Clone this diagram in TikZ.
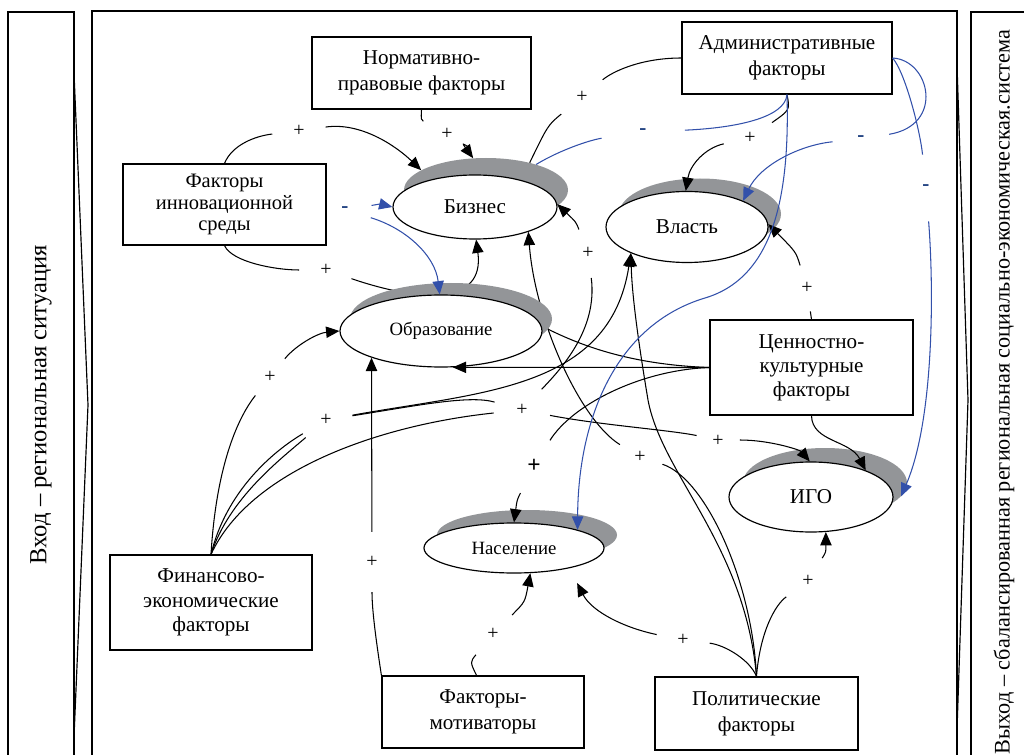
\documentclass[tikz,border=0pt]{standalone}
\usepackage{fontspec}
\setmainfont{Liberation Serif}
\usetikzlibrary{shapes.geometric, arrows.meta}
\definecolor{halogray}{RGB}{147,149,152}
\definecolor{linkblue}{RGB}{50,80,170}
\definecolor{signblue}{RGB}{25,60,125}
\tikzset{
    >={Triangle[length=4mm, width=3.4mm]}, % filled arrow heads
    factor/.style={draw, line width=1pt, fill=white, align=center, inner sep=0pt, font=\fontsize{18}{22}\selectfont}, % boxes with the factors
    actor/.style={ellipse, draw, line width=1pt, fill=white, inner sep=0pt, font=\fontsize{18}{20}\selectfont}, % the ellipses
    halo/.style={ellipse, fill=halogray, inner sep=0pt}, % gray band behind an ellipse
    link/.style={line width=0.9pt},
    blink/.style={link, draw=linkblue},
    sgn/.style={circle, inner sep=0pt, minimum size=16mm, font=\fontsize{17}{17}\selectfont}, % the gap round a sign
    bsgn/.style={sgn, text=signblue, font=\fontsize{18}{18}\selectfont\bfseries},
    frame/.style={line width=1pt},
}
\begin{document}
\begin{tikzpicture}[x=0.3mm, y=-0.3mm]
\useasboundingbox (0,0) rectangle (1024,755);
% input, system, output
\draw[frame] (8,770) -- (8,12) -- (74,12) -- (74,770);
\draw[frame] (74,73) -- (88,405) -- (74,737);
\draw[frame] (92,770) -- (92,11) -- (957,11) -- (957,770);
\draw[frame] (957,65) -- (968,400) -- (957,730);
\draw[frame] (971,770) -- (971,12) -- (1040,12);
\node[rotate=90, font=\fontsize{21}{21}\selectfont] (vhod) at (41,405) {Вход – региональная ситуация};
\node[rotate=90, font=\fontsize{19}{19}\selectfont] (vyhod) at (1004,392) {Выход – сбалансированная региональная социально-экономическая.система};

% factors
\node[factor, minimum width=65.7mm, minimum height=21.6mm] (norm) at (421.5,73) {Нормативно-\\правовые факторы};
\node[factor, minimum width=63mm, minimum height=21.6mm] (adm) at (787,58) {Административные\\факторы};
\node[factor, minimum width=60.9mm, minimum height=24.3mm, font=\fontsize{17.5}{18}\selectfont] (innov) at (224.5,204.5) {Факторы\\инновационной\\среды};
\node[factor, minimum width=60.9mm, minimum height=28.5mm, font=\fontsize{18}{20.5}\selectfont] (cenn) at (811.5,367.5) {Ценностно-\\культурные\\факторы};
\node[factor, minimum width=60.6mm, minimum height=28.5mm, font=\fontsize{18}{21}\selectfont] (fin) at (211,602.5) {Финансово-\\экономические\\факторы};
\node[factor, minimum width=60.6mm, minimum height=21.6mm] (motiv) at (483,712) {Факторы-\\мотиваторы};
\node[factor, minimum width=60.9mm, minimum height=21.9mm] (polit) at (756.5,713.5) {Политические\\факторы};

% actors
\node[halo, minimum width=49.2mm, minimum height=19.2mm] (bizs) at (486,190) {};
\node[actor, minimum width=49.2mm, minimum height=19.2mm] (biz) at (475,207) {Бизнес};
\node[halo, minimum width=48.6mm, minimum height=21.3mm] (vlasts) at (700,214) {};
\node[actor, minimum width=48.6mm, minimum height=21.3mm] (vlast) at (687,227) {Власть};
\node[halo, minimum width=54mm, minimum height=15mm] (nass) at (527,535) {};
\node[actor, minimum width=54mm, minimum height=15mm, font=\fontsize{16}{16}\selectfont] (nas) at (514,548) {Население};
\node[halo, minimum width=49.2mm, minimum height=21mm] (igos) at (825,483) {};
\node[actor, minimum width=49.2mm, minimum height=21mm] (igo) at (811,497) {ИГО};

% signs
\node[sgn] (p1) at (447,134) {+};
\node[sgn] (p2) at (299,131) {+};
\node[sgn] (p3) at (326,270) {+};
\node[sgn] (p4) at (582,97) {+};
\node[sgn] (p5) at (750,138) {+};
\node[sgn, minimum size=14mm] (p6) at (807,288) {+};
\node[sgn, minimum size=18mm, font=\fontsize{20}{20}\selectfont\bfseries] (p7) at (534,466) {+};
\node[sgn, minimum size=14mm] (p8) at (270,377) {+};
\node[sgn] (p9) at (326,420) {+};
\node[sgn, minimum size=15mm] (p10) at (588,253) {+};
\node[sgn, minimum size=17mm] (p11) at (522,410) {+};
\node[sgn, minimum size=13mm] (p12) at (718,440) {\raisebox{-11pt}{+}};
\node[sgn] (p13) at (808,581) {+};
\node[sgn] (p14) at (683,640) {+};
\node[sgn, minimum size=14mm] (p15) at (640,457) {\raisebox{-10pt}{+}};
\node[sgn] (p16) at (493,634) {+};
\node[sgn, minimum size=18mm] (p17) at (372,562) {+};
\node[bsgn] (m1) at (345,210) {-};
\node[bsgn, minimum size=25mm] (m2) at (643,132) {-};
\node[bsgn, minimum size=17mm] (m3) at (861,139) {-};
\node[bsgn, minimum size=20mm] (m4) at (926,188) {-};

% these two run behind Образование
\draw[link,->] (innov.south) .. controls (232,262) and (275,270) .. (p3)
               (p3) .. controls (420,302) and (485,306) .. (biz.272);
\draw[link,->] (polit.north) .. controls (752,580) and (705,478) .. (p15)
               (p15) .. controls (580,420) and (535,320) .. (biz.335);

\node[halo, minimum width=60.6mm, minimum height=21.6mm] (obrs) at (451,319) {};
\node[actor, minimum width=60.6mm, minimum height=21.6mm, font=\fontsize{16}{16}\selectfont] (obr) at (441,331) {Образование};

% positive links
\draw[link,->] (norm.south) .. controls (421,120) .. (p1)
               (p1) .. controls (462,143) .. (bizs.112);
\draw[link,->] (innov.north) .. controls (232,145) and (255,136) .. (p2)
               (p2) .. controls (360,122) and (395,145) .. (bizs.163);
\draw[link] (adm.west) .. controls (640,58) and (612,72) .. (p4)
            (p4) .. controls (548,125) .. (bizs.32);
\draw[link,->] (adm.south) .. controls (790,110) .. (p5)
               (p5) .. controls (705,148) and (690,165) .. (vlast.92);
\draw[link,->] (cenn.north) -- (p6)
               (p6) .. controls (796,252) .. (vlast.2);
\draw[link,->] (cenn.west) -- (obr.288);
\draw[link] (cenn.west) .. controls (640,365) and (590,350) .. (obrs.354);
\draw[link,->] (cenn.west) .. controls (640,370) and (572,405) .. (p7)
               (p7) .. controls (517,500) .. (nas.90);
\draw[link,->] (cenn.south) .. controls (812,442) and (850,440) .. (igo.26);
\draw[link,->] (fin.north) .. controls (216,470) and (236,420) .. (p8)
               (p8) .. controls (296,345) and (318,333) .. (obr.180);
\draw[link,->] (fin.north) .. controls (226,492) and (272,452) .. (p9)
               (p9) .. controls (420,405) and (470,395) .. (p11)
               (p11) .. controls (560,370) and (598,330) .. (p10)
               (p10) .. controls (576,222) .. (biz.2);
\draw[link,->] (fin.north) .. controls (229,498) and (282,458) .. (p9)
               (p9) .. controls (480,392) and (610,390) .. (vlast.205);
\draw[link,->] (fin.north) .. controls (250,470) and (380,425) .. (p11)
               (p11) .. controls (600,425) and (670,430) .. (p12)
               (p12) .. controls (770,440) and (800,450) .. (igo.92);
\draw[link,->] (polit.north) .. controls (760,632) and (775,605) .. (p13)
               (p13) .. controls (826,552) .. (igo.293);
\draw[link,->,shorten >=5mm] (polit.north) .. controls (750,660) and (725,645) .. (p14)
               (p14) .. controls (625,628) and (592,612) .. (nas.340);
\draw[link,->] (polit.north) .. controls (745,545) and (662,475) .. (648,400)
               .. controls (638,340) and (632,295) .. (vlast.205);
\draw[link,->] (motiv.100) .. controls (470,662) .. (p16)
               (p16) .. controls (525,602) .. (nas.303);
\draw[link,->] (motiv.north west) .. controls (376,640) and (372,610) .. (p17)
               (p17) -- (obr.201);

% negative links
\draw[blink,->] (m1) .. controls (380,204) .. (biz.180);
\draw[blink,->] (m1) .. controls (405,228) and (435,255) .. (obr.92);
\draw[blink] (adm.south) .. controls (785,118) and (735,128) .. (m2)
             (m2) .. controls (590,140) and (560,150) .. (bizs.27);
\draw[blink,->] (adm.south) .. controls (790,200) and (772,278) .. (705,298)
                .. controls (615,325) and (578,420) .. (nas.16);
\draw[blink,->] (adm.east) .. controls (930,60) and (945,125) .. (m3)
                (m3) .. controls (800,145) and (760,165) .. (vlast.25);
\draw[blink,->] (adm.east) .. controls (905,72) and (920,130) .. (m4)
                (m4) .. controls (934,290) and (934,420) .. (igos.350);
\end{tikzpicture}
\end{document}
